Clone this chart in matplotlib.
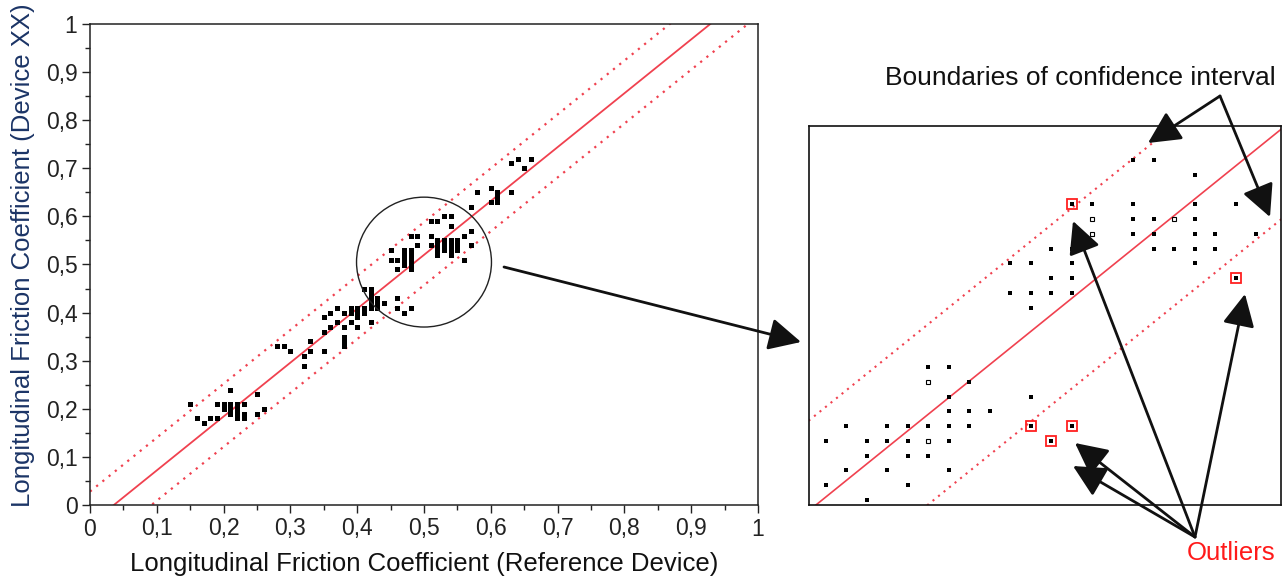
import numpy as np
import matplotlib
matplotlib.use("Agg")
import matplotlib.pyplot as plt
from matplotlib.patches import Ellipse
from matplotlib.ticker import MultipleLocator, FuncFormatter

plt.rcParams['font.family'] = ['Liberation Sans', 'DejaVu Sans']

# measured friction pairs (reference device, device XX)
ref_x = [0.15, 0.16, 0.17, 0.18, 0.19, 0.19, 0.20, 0.20, 0.21, 0.21, 0.21, 0.21, 0.22, 0.22,
         0.22, 0.22, 0.23, 0.23, 0.23, 0.25, 0.25, 0.26,
         0.28, 0.29, 0.30, 0.32, 0.32, 0.33, 0.33, 0.35, 0.35, 0.35, 0.36, 0.36, 0.37, 0.37,
         0.38, 0.38, 0.38, 0.38, 0.38, 0.39, 0.39, 0.39, 0.40, 0.40, 0.40, 0.40, 0.41, 0.41,
         0.41, 0.42, 0.42, 0.42, 0.42, 0.42, 0.42, 0.43, 0.43, 0.43, 0.44, 0.46, 0.46, 0.47, 0.48,
         0.45, 0.45, 0.46, 0.46, 0.47, 0.47, 0.47, 0.47, 0.48, 0.48, 0.48, 0.48, 0.48, 0.48,
         0.49, 0.49, 0.51, 0.51, 0.51, 0.52, 0.52, 0.52, 0.52, 0.52, 0.53, 0.53, 0.53, 0.53,
         0.54, 0.54, 0.54, 0.54, 0.54, 0.54, 0.55, 0.55, 0.55, 0.56, 0.57, 0.57, 0.56, 0.57,
         0.58, 0.60, 0.60, 0.61, 0.61, 0.61, 0.63, 0.63, 0.64, 0.65, 0.66]
dev_y = [0.21, 0.18, 0.17, 0.18, 0.18, 0.21, 0.21, 0.20, 0.21, 0.24, 0.20, 0.19, 0.21, 0.20,
         0.19, 0.18, 0.21, 0.18, 0.19, 0.23, 0.19, 0.20,
         0.33, 0.33, 0.32, 0.31, 0.29, 0.34, 0.32, 0.32, 0.36, 0.39, 0.40, 0.37, 0.41, 0.38,
         0.40, 0.35, 0.34, 0.33, 0.37, 0.41, 0.40, 0.38, 0.41, 0.40, 0.39, 0.37, 0.41, 0.40,
         0.45, 0.41, 0.38, 0.45, 0.44, 0.43, 0.42, 0.42, 0.41, 0.43, 0.42, 0.43, 0.41, 0.40, 0.41,
         0.53, 0.51, 0.51, 0.49, 0.50, 0.51, 0.52, 0.53, 0.49, 0.50, 0.51, 0.52, 0.53, 0.56,
         0.56, 0.54, 0.56, 0.54, 0.59, 0.59, 0.52, 0.53, 0.54, 0.55, 0.60, 0.53, 0.54, 0.55,
         0.60, 0.58, 0.52, 0.53, 0.54, 0.55, 0.53, 0.54, 0.55, 0.56, 0.57, 0.54, 0.51, 0.62,
         0.65, 0.66, 0.63, 0.63, 0.64, 0.65, 0.65, 0.71, 0.72, 0.70, 0.72]

# regression line and confidence band
reg_slope = 1.12
reg_icept = -0.040
band_up = 0.068
band_lo = 0.063

# zoomed detail (values in steps of 0.01 from 0.40)
zoom_x = [15, 16, 18, 13, 15, 18, 20, 15, 16, 18, 15, 16, 18, 19, 21, 11, 12, 16, 17, 18, 19,
          9, 10, 12, 18, 11, 12, 9, 10, 11, 12, 10,
          5, 6, 7, 6, 10, 6, 7, 8, 1, 3, 4, 5, 6, 7, 0, 2, 3, 4, 6, 2, 4, 5, 1, 3, 6, 0, 4, 2]
zoom_y = [23, 23, 22, 20, 20, 20, 20, 19, 19, 19, 18, 18, 18, 18, 18, 17, 17, 17, 17, 17, 17,
          16, 16, 16, 16, 15, 15, 14, 14, 14, 14, 13,
          9, 9, 8, 7, 7, 6, 6, 6, 5, 5, 5, 5, 5, 5, 4, 4, 4, 4, 4, 3, 3, 3, 2, 2, 2, 1, 1, 0]
zoom_open_x = [13, 17, 13, 5, 5]
zoom_open_y = [19, 19, 18, 8, 4]
outlier_x = [12, 20, 10, 12, 11]
outlier_y = [20, 15, 5, 5, 4]
zoom_icept = -0.046
zoom_band = 0.061

red = '#f0414f'
fig = plt.figure(figsize=(12.87, 5.8), dpi=100)

# main scatter
ax = fig.add_axes([90/1287, 75/580, 668/1287, 481/580])
xs = np.array([0.0, 1.0])
ax.plot(xs, reg_slope*xs + reg_icept, color=red, lw=1.3, zorder=2)
ax.plot(xs, reg_slope*xs + reg_icept + band_up, color=red, lw=1.6, ls=(0, (1, 2.6)), zorder=2)
ax.plot(xs, reg_slope*xs + reg_icept - band_lo, color=red, lw=1.6, ls=(0, (1, 2.6)), zorder=2)
ax.plot(ref_x, dev_y, ls='none', marker='s', ms=3.6, mfc='black', mec='black', mew=0, zorder=3)
ax.add_patch(Ellipse((0.50, 0.505), 0.202, 0.27, fill=False, ec='#222222', lw=1.0, zorder=4))

ax.set_xlim(0, 1)
ax.set_ylim(0, 1)
ax.xaxis.set_major_locator(MultipleLocator(0.1))
ax.yaxis.set_major_locator(MultipleLocator(0.1))
ax.xaxis.set_minor_locator(MultipleLocator(0.05))
ax.yaxis.set_minor_locator(MultipleLocator(0.05))
fmt = FuncFormatter(lambda v, p: ('%g' % round(v, 2)).replace('.', ','))
ax.xaxis.set_major_formatter(fmt)
ax.yaxis.set_major_formatter(fmt)
ax.tick_params(which='major', direction='out', length=6, width=1, labelsize=16.5, pad=3, colors='#222222')
ax.tick_params(which='minor', direction='out', length=3.5, width=1, colors='#222222')
for s in ax.spines.values():
    s.set_linewidth(1.1)
    s.set_color('#222222')
ax.set_xlabel('Longitudinal Friction Coefficient (Reference Device)', fontsize=18.5, color='#111111')
ax.set_ylabel('Longitudinal Friction Coefficient (Device XX)', fontsize=18.5, color='#1b3466')
ax.xaxis.set_label_coords(0.5, -0.098)
ax.yaxis.set_label_coords(-0.083, 0.52)

# zoomed panel
ax2 = fig.add_axes([809/1287, 75/580, 472/1287, 379/580])
zx = 0.40 + 0.01*np.array(zoom_x)
zy = 0.40 + 0.01*np.array(zoom_y)
ox = 0.40 + 0.01*np.array(zoom_open_x)
oy = 0.40 + 0.01*np.array(zoom_open_y)
rx = 0.40 + 0.01*np.array(outlier_x)
ry = 0.40 + 0.01*np.array(outlier_y)
ax2.plot(xs, reg_slope*xs + zoom_icept, color=red, lw=1.2, zorder=2)
ax2.plot(xs, reg_slope*xs + zoom_icept + zoom_band, color=red, lw=1.5, ls=(0, (1, 2.4)), zorder=2)
ax2.plot(xs, reg_slope*xs + zoom_icept - zoom_band, color=red, lw=1.5, ls=(0, (1, 2.4)), zorder=2)
ax2.plot(zx, zy, ls='none', marker='s', ms=2.2, mfc='black', mec='black', mew=0, zorder=3)
ax2.plot(ox, oy, ls='none', marker='s', ms=2.8, mfc='white', mec='black', mew=0.8, zorder=3)
ax2.plot(rx, ry, ls='none', marker='s', ms=2.2, mfc='black', mec='black', mew=0, zorder=3)
ax2.plot(rx, ry, ls='none', marker='s', ms=7, mfc='none', mec='#ff2020', mew=1.3, zorder=4)
ax2.set_xlim(0.3918, 0.6221)
ax2.set_ylim(0.3966, 0.653)
ax2.set_xticks([])
ax2.set_yticks([])
for s in ax2.spines.values():
    s.set_linewidth(1.2)
    s.set_color('#111111')

# overlay for annotations, in pixel units
ov = fig.add_axes([0, 0, 1, 1], zorder=10)
ov.set_xlim(0, 1287)
ov.set_ylim(580, 0)
ov.axis('off')
ov.patch.set_alpha(0)
arr = dict(arrowstyle='-|>,head_length=0.9,head_width=0.45', color='#111111', lw=2.0,
           mutation_scale=22, shrinkA=0, shrinkB=0)
ov.annotate('', xy=(801, 342), xytext=(504, 267), arrowprops=arr)
ov.text(1080, 78, 'Boundaries of confidence interval', fontsize=19, ha='center', va='center',
        color='#111111')
ov.annotate('', xy=(1148, 143), xytext=(1220, 96), arrowprops=arr)
ov.annotate('', xy=(1270, 217), xytext=(1220, 96), arrowprops=arr)
ov.text(1231, 553, 'Outliers', fontsize=18.5, ha='center', va='center', color='#ff1a1a')
for tx, ty in [(1073, 221), (1245, 294), (1075, 443), (1073, 466)]:
    ov.annotate('', xy=(tx, ty), xytext=(1195, 537), arrowprops=arr)

fig.savefig('out.png', dpi=100)
